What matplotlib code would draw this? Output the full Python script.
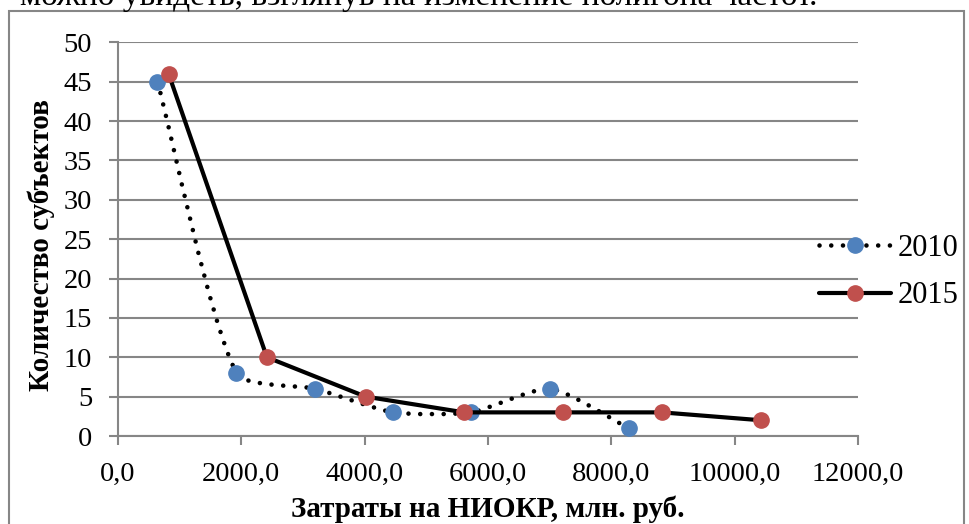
import matplotlib
matplotlib.use("Agg")
import matplotlib.pyplot as plt
from matplotlib.path import Path
from matplotlib.patches import PathPatch, Rectangle
from matplotlib.lines import Line2D
from matplotlib.ticker import FixedLocator, FuncFormatter
import numpy as np

plt.rcParams['font.family'] = ['Liberation Serif', 'DejaVu Serif']

# ---- data ----
x_2010 = [640, 1920, 3200, 4460, 5730, 7010, 8280]
y_2010 = [45, 8, 6, 3, 3, 6, 1]
x_2015 = [820, 2415, 4015, 5615, 7220, 8820, 10425]
y_2015 = [46, 10, 5, 3, 3, 3, 2]
series_labels = ["2010", "2015"]
x_ticks = [0, 2000, 4000, 6000, 8000, 10000, 12000]
y_ticks = [0, 5, 10, 15, 20, 25, 30, 35, 40, 45, 50]
x_label = "Затраты на НИОКР, млн. руб."
y_label = "Количество субъектов"
top_text = "можно увидеть, взглянув на изменение полигона частот."

BLUE = "#4F81BD"
RED = "#C0504D"
GRID = "#868686"

W, H = 969, 524
AX_L, AX_R, AX_T, AX_B = 118, 858, 42.3, 436
fig = plt.figure(figsize=(W / 100, H / 100), dpi=100)
ax = fig.add_axes([AX_L / W, 1 - AX_B / H, (AX_R - AX_L) / W, (AX_B - AX_T) / H])

# pixel scale of each data unit (used so the smoothing looks right on screen)
SX = (AX_R - AX_L) / (x_ticks[-1] - x_ticks[0])
SY = (AX_B - AX_T) / (y_ticks[-1] - y_ticks[0])


def smooth_path(xs, ys, k=0.2):
    """Excel-like smoothed line: cubic Bezier segments whose control handles
    follow the neighbour direction and scale with the segment's own length."""
    P = np.column_stack([np.asarray(xs, float) * SX, np.asarray(ys, float) * SY])
    n = len(P)
    verts = [P[0]]
    codes = [Path.MOVETO]

    def direction(i):
        a = P[i - 1] if i > 0 else P[i]
        b = P[i + 1] if i < n - 1 else P[i]
        d = b - a
        return d / np.linalg.norm(d)

    for i in range(n - 1):
        seg = np.linalg.norm(P[i + 1] - P[i])
        c1 = P[i] + direction(i) * seg * k
        c2 = P[i + 1] - direction(i + 1) * seg * k
        verts += [c1, c2, P[i + 1]]
        codes += [Path.CURVE4] * 3
    V = np.array(verts)
    V[:, 0] /= SX
    V[:, 1] /= SY
    return Path(V, codes)


lw_dot = 3.3
dot_style = (0, (0.01, 2.55))
lw_solid = 3.0
ms = 11

# 2010: smoothed dotted line
patch = PathPatch(smooth_path(x_2010, y_2010), fill=False, edgecolor="black",
                  linewidth=lw_dot, linestyle=dot_style, capstyle="round", zorder=3)
ax.add_patch(patch)
ax.plot(x_2010, y_2010, linestyle="none", marker="o", markersize=ms,
        markerfacecolor=BLUE, markeredgecolor=BLUE, zorder=4)

# 2015: solid line
ax.plot(x_2015, y_2015, color="black", linewidth=lw_solid, marker="o", markersize=ms,
        markerfacecolor=RED, markeredgecolor=RED, solid_joinstyle="round", zorder=5)

ax.set_xlim(x_ticks[0], x_ticks[-1])
ax.set_ylim(y_ticks[0], y_ticks[-1])
ax.xaxis.set_major_locator(FixedLocator(x_ticks))
ax.yaxis.set_major_locator(FixedLocator(y_ticks))
ax.xaxis.set_major_formatter(FuncFormatter(lambda v, p: f"{v:.1f}".replace(".", ",")))
ax.yaxis.set_major_formatter(FuncFormatter(lambda v, p: f"{v:.0f}"))

ax.grid(axis="y", color=GRID, linewidth=1.5, zorder=0)
ax.set_axisbelow(True)
for s in ["top", "right"]:
    ax.spines[s].set_visible(False)
for s in ["left", "bottom"]:
    ax.spines[s].set_color(GRID)
    ax.spines[s].set_linewidth(1.5)
ax.tick_params(axis="both", direction="out", color=GRID, width=1.5, length=6.5,
               labelsize=20.5, pad=12)

ax.set_xlabel(x_label, fontsize=21, fontweight="bold", labelpad=6)
ax.set_ylabel(y_label, fontsize=21, fontweight="bold", labelpad=6, y=0.485)

handles = [
    Line2D([], [], color="black", linewidth=lw_dot, linestyle=dot_style,
           dash_capstyle="round", marker="o", markersize=ms,
           markerfacecolor=BLUE, markeredgecolor=BLUE),
    Line2D([], [], color="black", linewidth=lw_solid, solid_capstyle="round",
           marker="o", markersize=ms, markerfacecolor=RED, markeredgecolor=RED),
]
fig.legend(handles, series_labels, loc="center left",
           bbox_to_anchor=(819 / W, 1 - 272 / H), frameon=False, fontsize=22,
           handlelength=2.35, handletextpad=0.22, labelspacing=0.62,
           borderpad=0, borderaxespad=0)

# outer chart border
fig.patches.append(Rectangle((9 / W, -0.05), (964 - 9) / W, 1.05 - 11 / H,
                             transform=fig.transFigure, fill=False,
                             edgecolor=GRID, linewidth=1.5))

# cut-off text line above the chart
fig.text(818 / W, 1 - 4.5 / H, top_text, ha="right", va="baseline", fontsize=24)

fig.savefig("out.png", dpi=100)
